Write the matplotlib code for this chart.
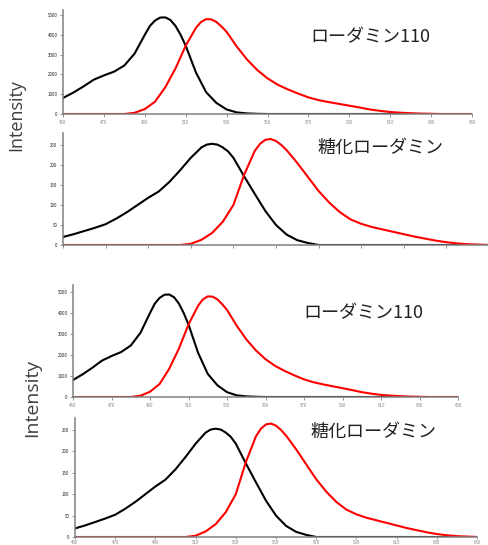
import numpy as np
import matplotlib.pyplot as plt

plt.rcParams['font.family'] = ['Noto Sans CJK JP', 'DejaVu Sans']

# ローダミン110 (wavelength nm, intensity)
r110_black_wl = [450, 455, 460, 465, 470, 475, 480, 485, 490, 492.5,
                 495, 497.5, 500, 502.5, 505, 507.5, 510, 515, 520, 525,
                 530, 535, 540, 545, 550, 630]
r110_black = [810, 1080, 1390, 1730, 1950, 2140, 2450, 3050, 4000, 4450,
              4720, 4870, 4880, 4750, 4450, 4000, 3450, 2100, 1100, 560,
              230, 80, 30, 10, 0, 0]
r110_red_wl = [450, 480, 485, 490, 495, 500, 505, 510, 515, 517.5,
               520, 522.5, 525, 527.5, 530, 535, 540, 545, 550, 555,
               560, 565, 570, 575, 580, 585, 590, 595, 600, 605,
               610, 615, 620, 625, 630, 635, 650]
r110_red = [0, 0, 60, 250, 620, 1350, 2300, 3450, 4350, 4650,
            4790, 4780, 4650, 4420, 4150, 3400, 2750, 2220, 1800, 1480,
            1240, 1030, 840, 700, 600, 510, 420, 330, 230, 160,
            100, 65, 40, 20, 10, 0, 0]

# 糖化ローダミン
glyc_black_wl = [450, 455, 460, 465, 470, 475, 480, 485, 490, 495,
                 500, 505, 510, 515, 517.5, 520, 522.5, 525, 527.5, 530,
                 535, 540, 545, 550, 555, 560, 565, 570, 650]
glyc_black = [20, 27, 35, 43, 52, 66, 82, 100, 118, 134,
              158, 187, 218, 244, 251, 253, 251, 244, 234, 218,
              172, 128, 85, 50, 26, 12, 5, 0, 0]
glyc_red_wl = [450, 505, 510, 515, 520, 525, 530, 535, 540, 542.5,
               545, 547.5, 550, 552.5, 555, 560, 565, 570, 575, 580,
               585, 590, 595, 600, 605, 610, 615, 620, 625, 630,
               635, 640, 645, 650]
glyc_red = [0, 0, 3, 13, 30, 58, 100, 175, 235, 253,
            263, 265, 260, 250, 237, 205, 170, 135, 106, 82,
            64, 53, 45, 39, 33, 27, 21, 16, 11, 7,
            4, 2, 1, 0]

x_ticks = list(range(450, 651, 20))
r110_yticks = [0, 1000, 2000, 3000, 4000, 5000]
glyc_yticks = [0, 50, 100, 150, 200, 250]

W, H = 489, 545


def panel(fig, left, right, bottom, top, ytop):
    ax = fig.add_axes([left / W, (H - bottom) / H, (right - left) / W, (bottom - top) / H])
    ax.set_xlim(450, 650)
    ax.set_ylim(0, ytop)
    for s in ['top', 'right']:
        ax.spines[s].set_visible(False)
    for s in ['left', 'bottom']:
        ax.spines[s].set_color('#808080')
        ax.spines[s].set_linewidth(1.1)
    ax.tick_params(axis='both', length=2, width=0.6, color='#808080', pad=2)
    ax.tick_params(axis='y', labelsize=3.2, labelcolor='#222222')
    ax.tick_params(axis='x', labelsize=3.2, labelcolor='#888888')
    ax.set_xticks(x_ticks)
    return ax


def draw_r110(ax):
    ax.plot(r110_black_wl, r110_black, color='black', lw=1.5)
    ax.plot(r110_red_wl, r110_red, color='#ff0000', lw=1.5)
    ax.set_yticks(r110_yticks)


def draw_glyc(ax):
    ax.plot(glyc_black_wl, glyc_black, color='black', lw=1.5)
    ax.plot(glyc_red_wl, glyc_red, color='#ff0000', lw=1.5)
    ax.set_yticks(glyc_yticks)


fig = plt.figure(figsize=(W / 100, H / 100), dpi=100)

ax1 = panel(fig, 63, 472, 114, 10, 5253)
draw_r110(ax1)
ax2 = panel(fig, 63, 489, 245, 133, 280)
draw_glyc(ax2)
ax2.tick_params(axis='x', labelbottom=False)
ax3 = panel(fig, 73, 458, 397, 285, 5333)
draw_r110(ax3)
ax4 = panel(fig, 75, 477, 537, 418, 278)
draw_glyc(ax4)
ax4.tick_params(axis='x', pad=0.8, length=1.5)

title_kw = dict(ha='center', va='center', fontsize=13, color='#222222')
fig.text(370 / W, 1 - 37 / H, 'ローダミン110', **title_kw)
fig.text(380 / W, 1 - 148 / H, '糖化ローダミン', **title_kw)
fig.text(363 / W, 1 - 313 / H, 'ローダミン110', **title_kw)
fig.text(373 / W, 1 - 432 / H, '糖化ローダミン', **title_kw)

lab_kw = dict(ha='center', va='center', rotation=90, color='#404040', family=['Open Sans', 'DejaVu Sans'])
fig.text(16.5 / W, 1 - 115 / H, 'Intensity', fontsize=13, **lab_kw)
fig.text(32 / W, 1 - 398 / H, 'Intensity', fontsize=14, **lab_kw)

fig.savefig('out.png', dpi=100)
